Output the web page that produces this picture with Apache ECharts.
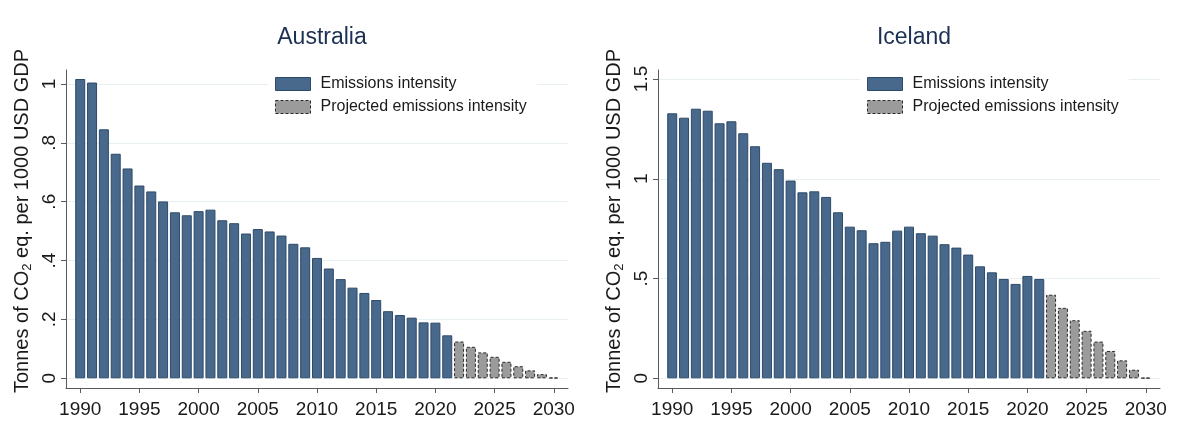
<!DOCTYPE html>
<html>
<head>
<meta charset="utf-8">
<script src="https://cdn.jsdelivr.net/npm/echarts@6/dist/echarts.min.js"></script>
<style>
  html, body { margin: 0; padding: 0; background: #fff; }
  #chart { width: 1177px; height: 424px; }
</style>
</head>
<body>
<div id="chart"></div>
<script>
// Emissions intensity, tonnes CO2 eq. per 1000 USD GDP
const histYears = [1990, 1991, 1992, 1993, 1994, 1995, 1996, 1997, 1998, 1999,
                   2000, 2001, 2002, 2003, 2004, 2005, 2006, 2007, 2008, 2009,
                   2010, 2011, 2012, 2013, 2014, 2015, 2016, 2017, 2018, 2019,
                   2020, 2021];
const projYears = [2022, 2023, 2024, 2025, 2026, 2027, 2028, 2029, 2030];
const yearTicks = [1990, 1995, 2000, 2005, 2010, 2015, 2020, 2025, 2030];

const australiaHist = [1.017, 1.005, 0.846, 0.763, 0.713, 0.655, 0.635, 0.601, 0.564, 0.554,
                       0.568, 0.573, 0.537, 0.527, 0.492, 0.507, 0.499, 0.485, 0.457, 0.445,
                       0.409, 0.373, 0.337, 0.308, 0.290, 0.266, 0.228, 0.215, 0.206, 0.190,
                       0.189, 0.146];
const australiaProj = [0.125, 0.107, 0.088, 0.073, 0.056, 0.041, 0.027, 0.014, 0.002];

const icelandHist = [1.328, 1.306, 1.351, 1.341, 1.278, 1.288, 1.228, 1.163, 1.080, 1.048,
                     0.991, 0.932, 0.937, 0.909, 0.832, 0.760, 0.742, 0.677, 0.684, 0.740,
                     0.760, 0.727, 0.715, 0.672, 0.655, 0.620, 0.561, 0.531, 0.498, 0.473,
                     0.513, 0.498];
const icelandProj = [0.419, 0.353, 0.291, 0.238, 0.184, 0.137, 0.090, 0.043, 0.002];

const australiaTicks = [0, 0.2, 0.4, 0.6, 0.8, 1];
const icelandTicks = [0, 0.5, 1, 1.5];

const panelTitles = ['Australia', 'Iceland'];
const seriesNames = ['Emissions intensity', 'Projected emissions intensity'];
const yTitle = 'Tonnes of CO{sub|2} eq. per 1000 USD GDP';

const FONT = '"Liberation Sans", Arial, Helvetica, sans-serif';
const TEXT = '#1a1a1a';
const AXIS = '#5a5a5a';
const GRID = '#e9f0f2';

const histStyle = { color: '#48698b', borderColor: '#2e4a69', borderWidth: 1 };
const projStyle = { color: '#9b9b9b', borderColor: '#2a2a2a', borderWidth: 1, borderType: [3, 2] };

const pairs = (xs, ys) => xs.map((x, i) => [x, ys[i]]);
const tickLabel = v => (v === 0 ? '0' : String(v).replace(/^0\./, '.'));

const panels = [
  { left: 66, yMin: -0.033, yMax: 1.0476, ticks: australiaTicks, hist: australiaHist, proj: australiaProj },
  { left: 658, yMin: -0.0486, yMax: 1.545, ticks: icelandTicks, hist: icelandHist, proj: icelandProj }
];

const option = {
  backgroundColor: '#fff',
  animation: false,
  textStyle: { fontFamily: FONT },
  title: panels.map((p, i) => ({
    text: panelTitles[i],
    left: p.left + 251,
    textAlign: 'center',
    top: 21,
    textStyle: { fontFamily: FONT, fontSize: 23, fontWeight: 'normal', color: '#1c3054' }
  })),
  legend: panels.map(p => ({
    orient: 'vertical',
    left: p.left + 202,
    top: 70,
    padding: [6, 10, 6, 7],
    itemGap: 7,
    itemWidth: 35,
    itemHeight: 13,
    backgroundColor: '#fff',
    textStyle: { fontFamily: FONT, fontSize: 16, color: TEXT, padding: [0, 0, 0, 5] },
    data: [
      { name: seriesNames[0], icon: 'rect', itemStyle: histStyle },
      { name: seriesNames[1], icon: 'rect', itemStyle: projStyle }
    ],
    selectedMode: false
  })),
  grid: panels.map(p => ({ left: p.left, width: 502, top: 70, bottom: 36, containLabel: false })),
  xAxis: panels.map((p, i) => ({
    type: 'value',
    gridIndex: i,
    min: 1988.8,
    max: 2031.2,
    axisLine: { show: true, onZero: false, lineStyle: { color: AXIS, width: 1 } },
    axisTick: { show: true, length: 5, customValues: yearTicks, lineStyle: { color: AXIS } },
    axisLabel: {
      customValues: yearTicks, fontSize: 19, color: TEXT, margin: 12, fontFamily: FONT,
      formatter: v => String(v)
    },
    splitLine: { show: false }
  })),
  yAxis: panels.map((p, i) => ({
    type: 'value',
    gridIndex: i,
    min: p.yMin,
    max: p.yMax,
    name: yTitle,
    nameLocation: 'middle',
    nameRotate: 90,
    nameGap: 32,
    nameTextStyle: {
      fontFamily: FONT, fontSize: 20, color: TEXT, lineHeight: 24,
      padding: [0, 0, 0, 16],
      rich: { sub: { fontFamily: FONT, fontSize: 13, lineHeight: 13, verticalAlign: 'bottom', color: TEXT } }
    },
    axisLine: { show: true, onZero: false, lineStyle: { color: AXIS, width: 1 } },
    axisTick: { show: true, length: 5, customValues: p.ticks, lineStyle: { color: AXIS } },
    axisLabel: {
      customValues: p.ticks, rotate: 90, fontSize: 19, color: TEXT, margin: 7,
      fontFamily: FONT, formatter: tickLabel
    },
    splitLine: { show: true, lineStyle: { color: GRID, width: 1 } }
  })),
  series: panels.flatMap((p, i) => [
    {
      name: seriesNames[0], type: 'bar', xAxisIndex: i, yAxisIndex: i,
      barWidth: 10, barGap: '-100%',
      itemStyle: histStyle,
      data: pairs(histYears, p.hist)
    },
    {
      name: seriesNames[1], type: 'bar', xAxisIndex: i, yAxisIndex: i,
      barWidth: 10, barGap: '-100%',
      itemStyle: projStyle,
      data: pairs(projYears, p.proj)
    }
  ])
};

const chart = echarts.init(document.getElementById('chart'), null, { renderer: 'canvas' });
chart.setOption(option);
</script>
</body>
</html>
